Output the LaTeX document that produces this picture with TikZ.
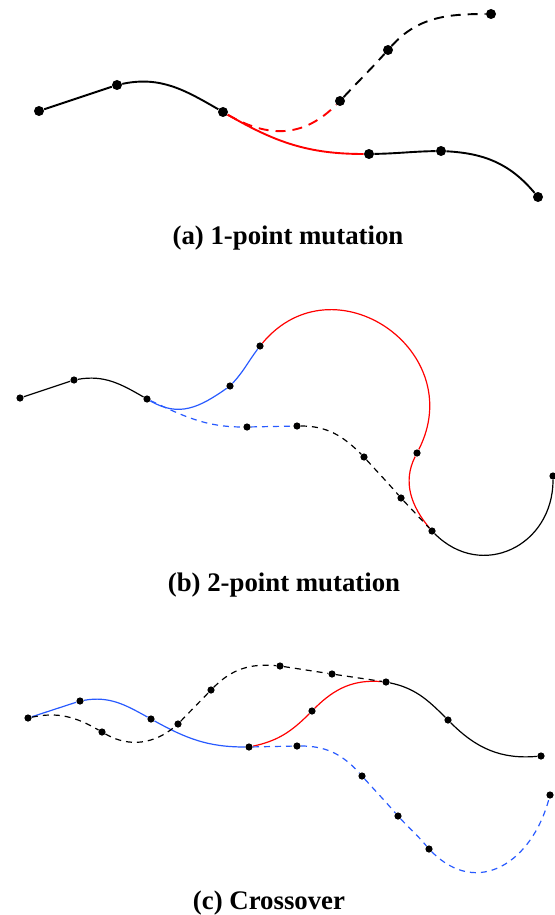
\documentclass[tikz,border=0pt]{standalone}
\usepackage{fontspec}
\setmainfont{Liberation Serif}
\definecolor{cblue}{RGB}{40,90,255}

\begin{document}
\begin{tikzpicture}[x=0.5pt,y=-0.5pt,
bigdot/.style={circle,fill=black,inner sep=0pt,minimum size=5pt},
dot/.style={circle,fill=black,inner sep=0pt,minimum size=3.6pt},
thickline/.style={line width=0.95pt},
thinline/.style={line width=0.6pt},
dasha/.style={dash pattern=on 5pt off 3.5pt},
dashb/.style={dash pattern=on 3pt off 2.5pt},
caption/.style={font=\bfseries\fontsize{13.4}{16}\selectfont}]
\useasboundingbox (0,0) rectangle (554,915);

% (a) 1-point mutation
\node[bigdot] (a1) at (39,111) {};
\node[bigdot] (a2) at (117,85) {};
\node[bigdot] (a3) at (223,112) {};
\node[bigdot] (a4) at (369,154) {};
\node[bigdot] (a5) at (441,151) {};
\node[bigdot] (a6) at (538,197) {};
\node[bigdot] (b1) at (340,101) {};
\node[bigdot] (b2) at (388,50) {};
\node[bigdot] (b3) at (491,14) {};

\draw[thickline] (a1) -- (a2) to[out=12,in=150] (a3);
\draw[thickline,red] (a3) to[out=-30,in=180] (a4);
\draw[thickline] (a4) to[out=1,in=181] (a5) to[out=-3,in=130] (a6);
\draw[thickline,red,dasha] (a3) to[out=-30,in=225,looseness=1.1] (b1);
\draw[thickline,dasha] (b1) to[out=47,in=228] (b2) to[out=48,in=180] (b3);

\node[caption] (capa) at (288,238) {(a) 1-point mutation};

% (b) 2-point mutation
\node[dot] (c1) at (20,398) {};
\node[dot] (c2) at (74,380) {};
\node[dot] (c3) at (147,399) {};
\node[dot] (c4) at (230,386) {};
\node[dot] (c5) at (260,346) {};
\node[dot] (c6) at (417,453) {};
\node[dot] (c7) at (432,531) {};
\node[dot] (c8) at (553,476) {};
\node[dot] (d1) at (247,427) {};
\node[dot] (d2) at (297,426) {};
\node[dot] (d3) at (364,457) {};
\node[dot] (d4) at (401,498) {};

\draw[thinline] (c1) -- (c2) to[out=10,in=150] (c3);
\draw[thinline,cblue] (c3) to[out=-30,in=215,looseness=1.1] (c4) to[out=47,in=233] (c5);
\draw[thinline,red] (c5) to[out=50,in=63,looseness=1.5] (c6) to[out=-117,in=130] (c7);
\draw[thinline] (c7) to[out=-45,in=-90,looseness=1.3] (c8);
\draw[thinline,cblue,dashb] (c3) to[out=-25,in=180] (d1) -- (d2);
\draw[thinline,dashb] (d2) to[out=0,in=135] (d3) to[out=-48,in=131] (d4) -- (c7);

\node[caption] (capb) at (284,585) {(b) 2-point mutation};

% (c) Crossover
\node[dot] (e1) at (28,718) {};
\node[dot] (e2) at (80,701) {};
\node[dot] (e3) at (151,719) {};
\node[dot] (e4) at (249,747) {};
\node[dot] (e5) at (312,711) {};
\node[dot] (e6) at (386,682) {};
\node[dot] (e7) at (448,720) {};
\node[dot] (e8) at (541,756) {};
\node[dot] (f1) at (102,732) {};
\node[dot] (f2) at (178,724) {};
\node[dot] (f3) at (211,690) {};
\node[dot] (f4) at (280,666) {};
\node[dot] (f5) at (332,674) {};
\node[dot] (g1) at (297,746) {};
\node[dot] (g2) at (362,776) {};
\node[dot] (g3) at (398,816) {};
\node[dot] (g4) at (429,849) {};
\node[dot] (g5) at (550,795) {};

\draw[thinline,cblue] (e1) -- (e2) to[out=10,in=151] (e3) to[out=-29,in=180] (e4);
\draw[thinline,red] (e4) to[out=12,in=225] (e5) to[out=45,in=175] (e6);
\draw[thinline] (e6) to[out=-12,in=135] (e7) to[out=-45,in=185] (e8);
\draw[thinline,dashb] (e1) to[out=12,in=150] (f1) to[out=-30,in=220] (f2)
  to[out=46,in=226] (f3) to[out=45,in=175] (f4) -- (f5) -- (e6);
\draw[thinline,cblue,dashb] (e4) -- (g1) to[out=0,in=132] (g2) to[out=-48,in=131] (g3)
  to[out=-47,in=130] (g4) to[out=-45,in=-105,looseness=1.3] (g5);

\node[caption] (capc) at (269,903) {(c) Crossover};
\end{tikzpicture}
\end{document}
